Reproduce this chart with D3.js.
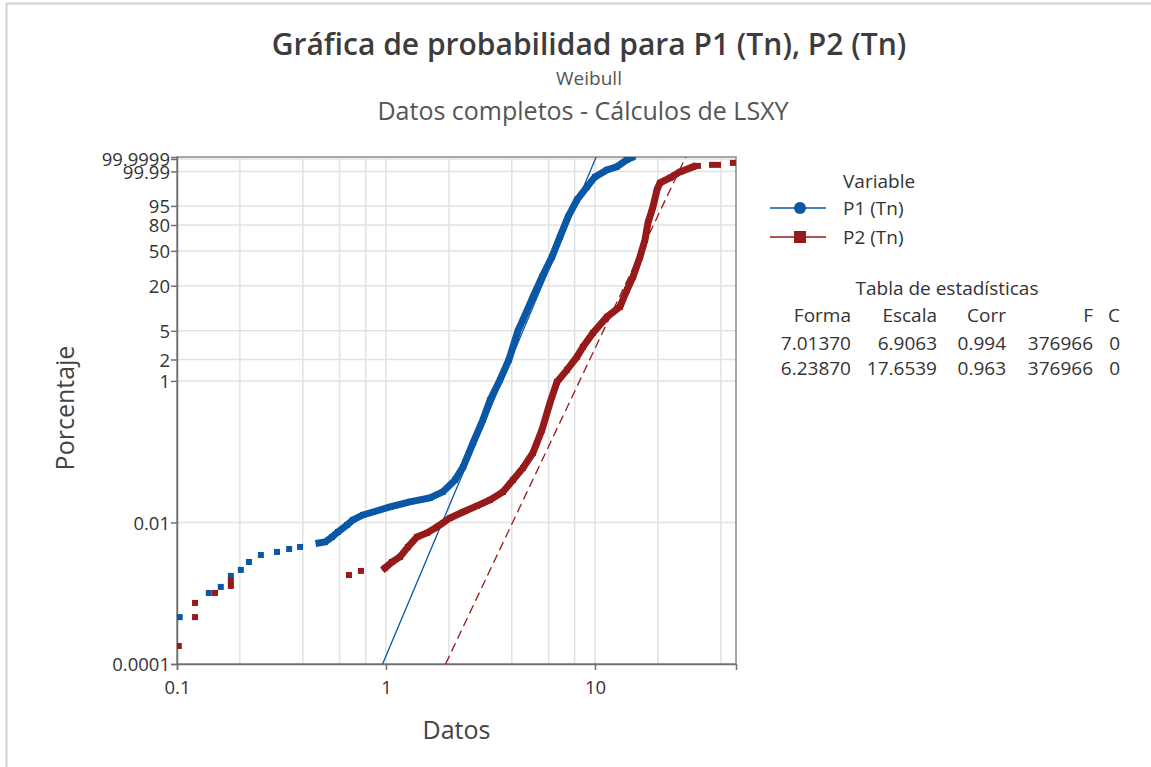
<!DOCTYPE html>
<html>
<head>
<meta charset="utf-8">
<script src="https://cdn.jsdelivr.net/npm/d3@7"></script>
<style>
	body { margin: 0; background: #fff; }
	text { font-family: "Open Sans", "Noto Sans", sans-serif; }
</style>
</head>
<body>
<div id="chart"></div>
<script>

// P1 (Tn) (Datos, Porcentaje)
var p1X   = [0.103, 0.142, 0.162, 0.181, 0.202, 0.221, 0.252, 0.301, 0.344, 0.388,
             0.478, 0.511, 0.552, 0.589, 0.651, 0.695, 0.776, 0.867, 1.045, 1.30,
             1.62, 1.87, 2.14, 2.34, 2.61, 2.91, 3.15, 3.51, 3.87, 4.28,
             4.52, 5.05, 5.58, 6.23, 6.80, 7.43, 8.20, 9.16, 10.0, 11.4,
             12.7, 14.2, 15.0];
var p1Pct = [0.00046, 0.00101, 0.00123, 0.00176, 0.00214, 0.00277, 0.00348, 0.00384, 0.00423, 0.00452,
             0.00514, 0.00531, 0.00625, 0.00736, 0.00924, 0.0109, 0.0128, 0.0141, 0.0166, 0.0196,
             0.0223, 0.0271, 0.040, 0.0611, 0.134, 0.282, 0.54, 1.03, 1.97, 5.0,
             7.07, 14.3, 25.7, 43.5, 66.5, 87.7, 97.4, 99.62, 99.955, 99.9938,
             99.9977, 99.99985, 99.99995];
var p1Band = [10, 43];   // points close enough to merge into one band

// P2 (Tn)
var p2X   = [0.102, 0.122, 0.122, 0.152, 0.181, 0.181, 0.665, 0.759,
             0.989, 1.068, 1.167, 1.274, 1.407, 1.571, 1.754, 2.024, 2.336, 2.725,
             3.146, 3.628, 4.052, 4.524, 5.05, 5.577, 6.092, 6.58, 7.345, 8.20,
             8.76, 9.78, 11.41, 13.17, 14.23, 15.2, 16.42, 17.35, 17.93, 18.95,
             19.8, 20.47, 22.85, 25.51, 29.43,
             31.1, 36.3, 38.8, 45.7];
var p2Pct = [0.00018, 0.00046, 0.00073, 0.00101, 0.00127, 0.00149, 0.00181, 0.00207,
             0.00228, 0.00277, 0.00326, 0.00452, 0.00625, 0.00713, 0.00866, 0.0116, 0.0141, 0.0172,
             0.0209, 0.0271, 0.040, 0.0591, 0.0963, 0.204, 0.49, 0.968, 1.428, 2.173,
             3.0, 4.69, 7.76, 10.59, 17.68, 25.7, 43.5, 62.9, 82.2, 94.5,
             99.36, 99.824, 99.943, 99.9886, 99.9977,
             99.99838, 99.99889, 99.99889, 99.99948];
var p2Band = [8, 43];

var seriesNames = ["P1 (Tn)", "P2 (Tn)"];

// Tabla de estadisticas
var statForma  = [7.01370, 6.23870];
var statEscala = [6.9063, 17.6539];
var statCorr   = [0.994, 0.963];
var statF      = [376966, 376966];
var statC      = [0, 0];

var yTicks = [0.0001, 0.01, 1, 2, 5, 20, 50, 80, 95, 99.99, 99.9999];
var xTicks = [0.1, 1, 10];
var xGrid  = [0.2, 0.4, 0.6, 0.8, 1, 2, 4, 6, 8, 10, 20, 40];

var colors = ["#0a57a5", "#951a19"];

// weibull probability transform
function weib( pct ) {
	return Math.log( -Math.log( 1 - pct / 100 ) );
}

var plotL = 177, plotR = 736, plotT = 157, plotB = 664;

var svg = d3.select("#chart")
	.append("svg")
	.attr("width", 1151)
	.attr("height", 767)
	.style("background", "#fff");

// page frame of the document
svg.append("line")
	.attr("x1", 6).attr("y1", 3.5).attr("x2", 1151).attr("y2", 3.5)
	.attr("stroke", "#d2d2d2").attr("stroke-width", 2);
svg.append("line")
	.attr("x1", 6.5).attr("y1", 3).attr("x2", 6.5).attr("y2", 767)
	.attr("stroke", "#d2d2d2").attr("stroke-width", 2);

var x = d3.scaleLog()
	.domain([0.1, 47.3])
	.range([plotL, plotR]);

var y = d3.scaleLinear()
	.domain([weib(0.0001), weib(99.99996)])
	.range([plotB, plotT]);

// titles
svg.append("text")
	.attr("x", 589).attr("y", 55)
	.attr("text-anchor", "middle")
	.style("font-size", "30px").style("font-weight", 600)
	.attr("fill", "#3c3c3c")
	.text("Gráfica de probabilidad para P1 (Tn), P2 (Tn)");

svg.append("text")
	.attr("x", 589).attr("y", 85)
	.attr("text-anchor", "middle")
	.style("font-size", "19px")
	.attr("fill", "#555")
	.text("Weibull");

svg.append("text")
	.attr("x", 583).attr("y", 120)
	.attr("text-anchor", "middle")
	.style("font-size", "25px")
	.attr("fill", "#555")
	.text("Datos completos - Cálculos de LSXY");

// grid
var grid = svg.append("g");

grid.selectAll("line.gx")
	.data(xGrid)
	.enter().append("line")
	.attr("x1", function(d) { return x(d); })
	.attr("x2", function(d) { return x(d); })
	.attr("y1", plotT).attr("y2", plotB)
	.attr("stroke", "#e2e2e2").attr("stroke-width", 1.5);

grid.selectAll("line.gy")
	.data(yTicks)
	.enter().append("line")
	.attr("x1", plotL).attr("x2", plotR)
	.attr("y1", function(d) { return y(weib(d)); })
	.attr("y2", function(d) { return y(weib(d)); })
	.attr("stroke", "#e2e2e2").attr("stroke-width", 1.5);

// frame
svg.append("rect")
	.attr("x", plotL).attr("y", plotT)
	.attr("width", plotR - plotL).attr("height", plotB - plotT)
	.attr("fill", "none")
	.attr("stroke", "#8a8a8a").attr("stroke-width", 1.5);

// axes
var yAxis = d3.axisLeft(y)
	.tickValues(yTicks.map(weib))
	.tickSize(6)
	.tickFormat(function(d, i) { return String(yTicks[i]); });

var xAxis = d3.axisBottom(x)
	.tickValues(xTicks)
	.tickSize(6)
	.tickFormat(function(d) { return String(d); });

var gy = svg.append("g")
	.attr("transform", "translate(" + plotL + ",0)")
	.call(yAxis);

var gx = svg.append("g")
	.attr("transform", "translate(0," + plotB + ")")
	.call(xAxis);

[gx, gy].forEach(function(g) {
	g.select(".domain").attr("stroke", "#707070").attr("stroke-width", 1.5);
	g.selectAll(".tick line").attr("stroke", "#707070").attr("stroke-width", 1.5);
	g.selectAll(".tick text")
		.attr("fill", "#333")
		.style("font-size", "18.5px")
		.style("font-family", "'Open Sans', 'Noto Sans', sans-serif");
});
gy.selectAll(".tick text").attr("x", -7).attr("dy", "0.36em");
gx.selectAll(".tick text").attr("y", 17);

// axis labels
svg.append("text")
	.attr("transform", "translate(74,408) rotate(-90)")
	.attr("text-anchor", "middle")
	.style("font-size", "25px")
	.attr("fill", "#444")
	.text("Porcentaje");

svg.append("text")
	.attr("x", (plotL + plotR) / 2).attr("y", 739)
	.attr("text-anchor", "middle")
	.style("font-size", "25px")
	.attr("fill", "#444")
	.text("Datos");

// plotted data, clipped to the plot area
svg.append("clipPath").attr("id", "plotclip")
	.append("rect")
	.attr("x", plotL).attr("y", plotT)
	.attr("width", plotR - plotL).attr("height", plotB - plotT);

var plot = svg.append("g").attr("clip-path", "url(#plotclip)");

var fitLine = d3.line()
	.x(function(d) { return x(d[0]); })
	.y(function(d) { return y(d[1]); });

// fitted weibull lines from forma / escala
statForma.forEach(function(shape, i) {
	var scale = statEscala[i];
	var w = y.domain();
	var pts = w.map(function(v) { return [ scale * Math.exp(v / shape), v ]; });
	plot.append("path")
		.attr("d", fitLine(pts))
		.attr("fill", "none")
		.attr("stroke", colors[i])
		.attr("stroke-width", 1.3)
		.attr("stroke-dasharray", i == 1 ? "9,5" : null);
});

var series = [
	{ xs: p1X, ps: p1Pct, band: p1Band },
	{ xs: p2X, ps: p2Pct, band: p2Band }
];

series.forEach(function(s, i) {
	var pts = s.xs.map(function(v, j) { return [ v, weib(s.ps[j]) ]; });

	plot.append("path")
		.attr("d", fitLine(pts.slice(s.band[0], s.band[1])))
		.attr("fill", "none")
		.attr("stroke", colors[i])
		.attr("stroke-width", 7)
		.attr("stroke-linecap", "square");

	plot.selectAll("rect.s" + i)
		.data(pts)
		.enter().append("rect")
		.attr("x", function(d) { return x(d[0]) - 3; })
		.attr("y", function(d) { return y(d[1]) - 3; })
		.attr("width", 6)
		.attr("height", 6)
		.attr("fill", colors[i]);
});

// legend
var legend = svg.append("g");

legend.append("text")
	.attr("x", 843).attr("y", 188)
	.style("font-size", "19px").attr("fill", "#333")
	.text("Variable");

seriesNames.forEach(function(name, i) {
	var ly = 208 + i * 29;
	legend.append("line")
		.attr("x1", 770).attr("x2", 826)
		.attr("y1", ly).attr("y2", ly)
		.attr("stroke", colors[i]).attr("stroke-width", 1.5);
	if (i == 0) {
		legend.append("circle")
			.attr("cx", 800).attr("cy", ly).attr("r", 6)
			.attr("fill", colors[i]);
	} else {
		legend.append("rect")
			.attr("x", 794).attr("y", ly - 6)
			.attr("width", 12).attr("height", 12)
			.attr("fill", colors[i]);
	}
	legend.append("text")
		.attr("x", 843).attr("y", ly + 7)
		.style("font-size", "19px").attr("fill", "#333")
		.text(name);
});

// tabla de estadisticas
var table = svg.append("g")
	.style("font-size", "19px")
	.attr("fill", "#333");

table.append("text")
	.attr("x", 947).attr("y", 295)
	.attr("text-anchor", "middle")
	.text("Tabla de estadísticas");

var colX = [851, 937, 1006, 1093, 1120];
var header = ["Forma", "Escala", "Corr", "F", "C"];

header.forEach(function(h, j) {
	table.append("text")
		.attr("x", colX[j]).attr("y", 322)
		.attr("text-anchor", "end")
		.text(h);
});

statForma.forEach(function(v, i) {
	var row = [ v.toFixed(5), statEscala[i].toFixed(4), statCorr[i].toFixed(3),
	            String(statF[i]), String(statC[i]) ];
	row.forEach(function(t, j) {
		table.append("text")
			.attr("x", colX[j]).attr("y", 350 + i * 25)
			.attr("text-anchor", "end")
			.text(t);
	});
});

</script>
</body>
</html>
